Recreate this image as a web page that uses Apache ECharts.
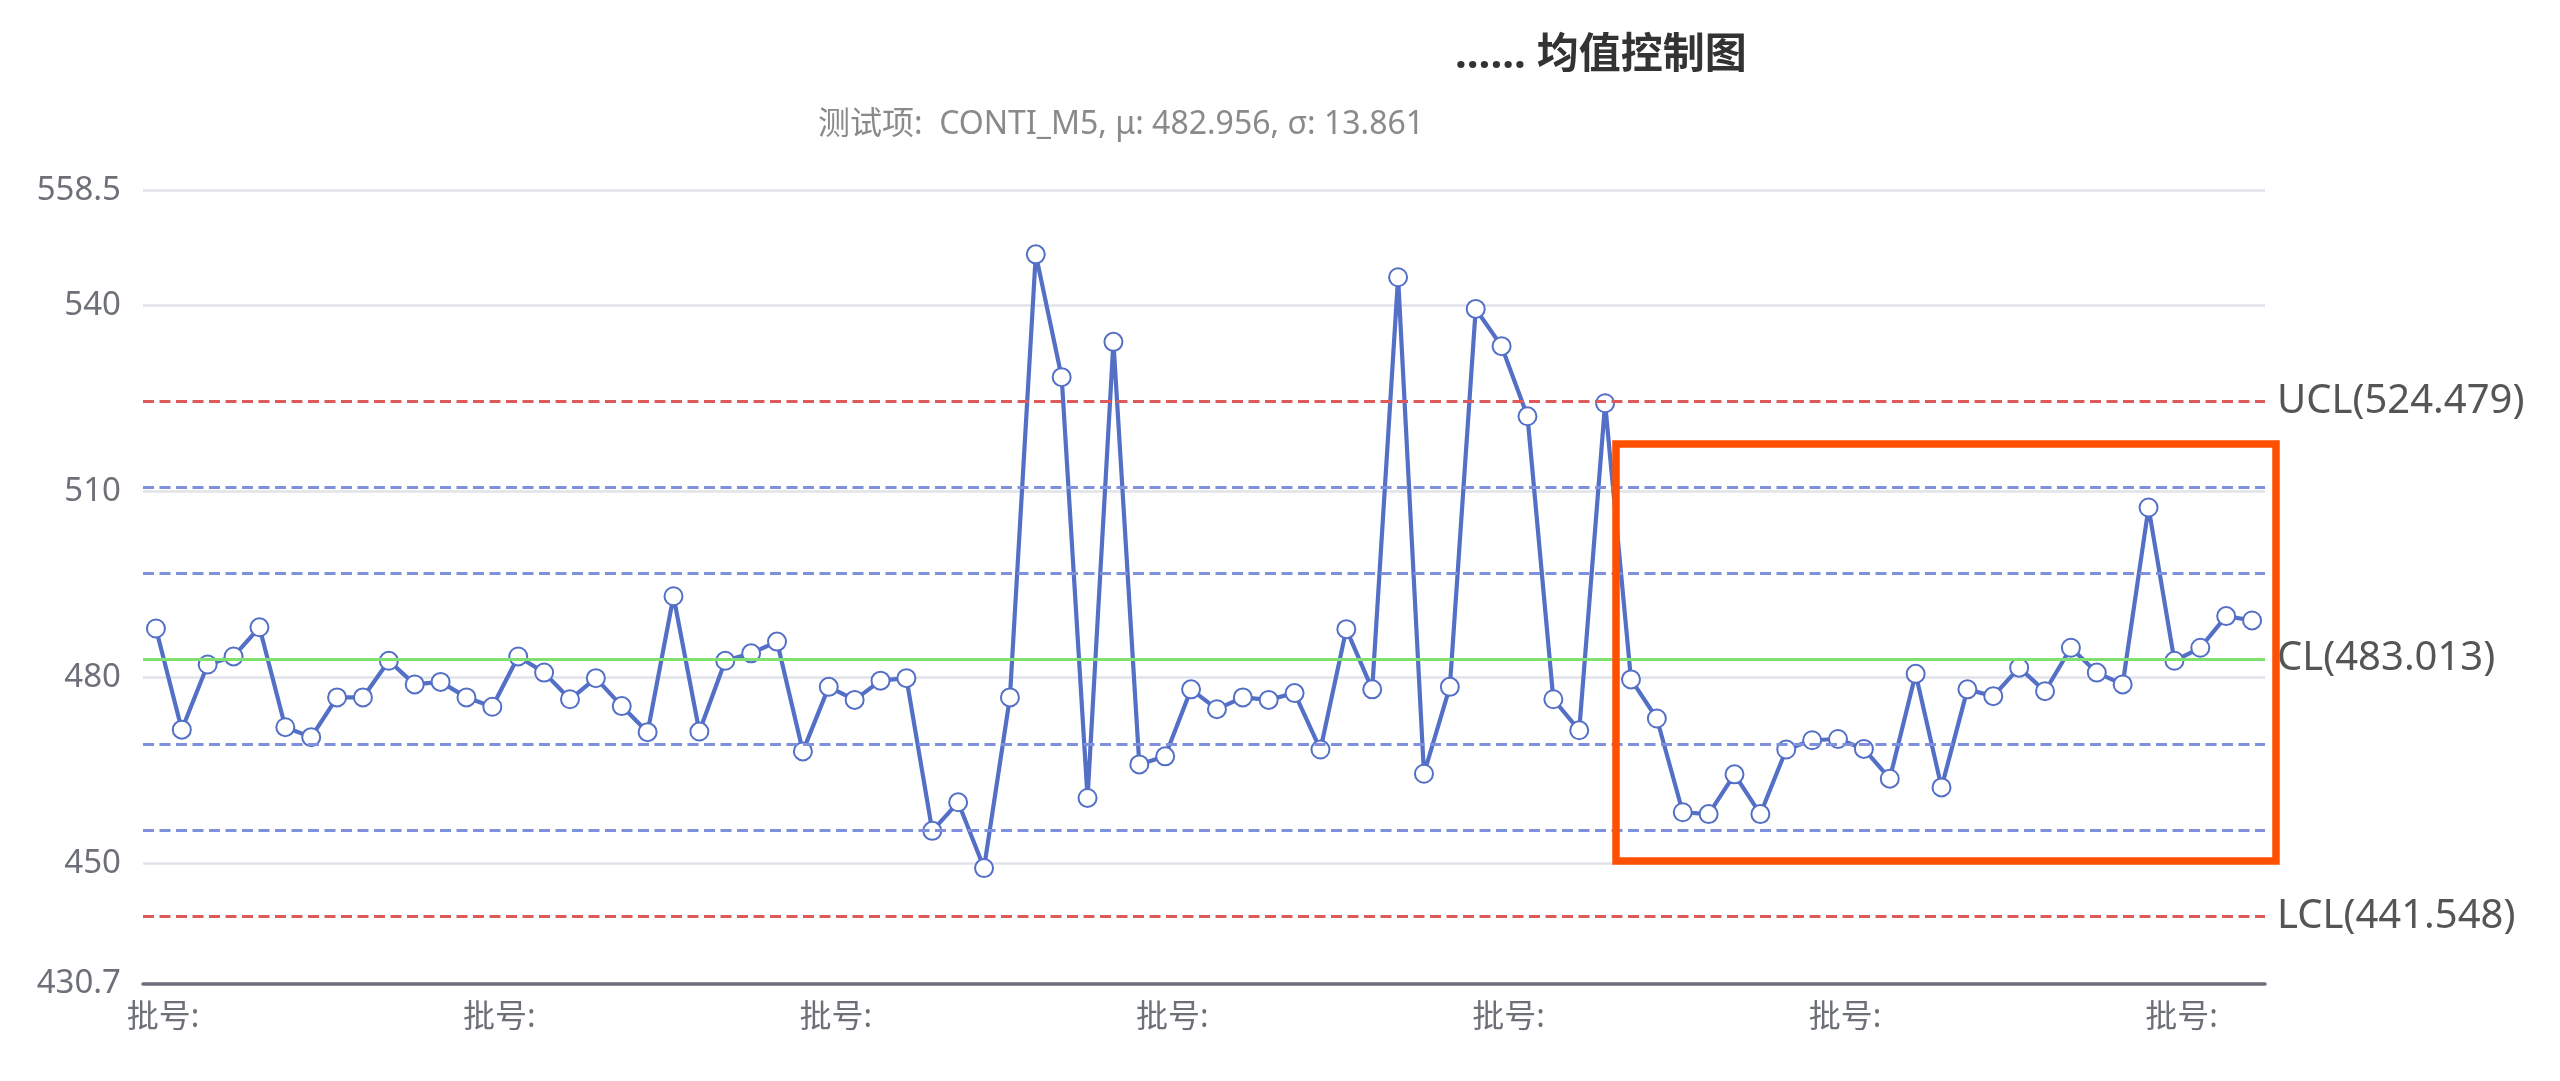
<!DOCTYPE html>
<html>
<head>
<meta charset="utf-8">
<title>均值控制图</title>
<script src="https://cdn.jsdelivr.net/npm/echarts@6/dist/echarts.min.js"></script>
<style>
  html, body { margin: 0; padding: 0; background: #fff; }
  #chart { width: 2560px; height: 1081px; }
</style>
</head>
<body>
<div id="chart"></div>
<script>
// sample means per batch
var sampleMeans = [
    487.9, 471.6, 482.1, 483.4, 488.1, 472.0, 470.4, 476.8, 476.8, 482.7,
    478.9, 479.3, 476.8, 475.3, 483.4, 480.8, 476.5, 479.9, 475.4, 471.2,
    493.1, 471.3, 482.7, 483.9, 485.8, 468.1, 478.5, 476.4, 479.5, 479.9,
    455.3, 459.9, 449.3, 476.8, 548.2, 528.4, 460.6, 534.1, 466.0, 467.3,
    478.1, 474.9, 476.8, 476.4, 477.5, 468.4, 487.8, 478.1, 544.5, 464.5,
    478.5, 539.4, 533.4, 522.1, 476.5, 471.5, 524.2, 479.7, 473.4, 458.3,
    458.0, 464.4, 458.0, 468.4, 469.9, 470.1, 468.5, 463.7, 480.6, 462.3,
    478.1, 477.0, 481.6, 477.8, 484.8, 480.8, 478.9, 507.4, 482.7, 484.8,
    489.9, 489.2
];
// batch numbers are blanked out in the source, only the prefix remains
var batchLabels = sampleMeans.map(function () { return '批号:'; });

var limitNames  = ['UCL', 'CL', 'LCL'];
var limitValues = [524.479, 483.013, 441.548];
var zoneValues  = [510.657, 496.835, 469.191, 455.369];   // ±1σ / ±2σ lines

var yMin = 430.7;
var yMax = 558.5;

var FONT = '"Noto Sans", "Noto Sans CJK SC", sans-serif';

(function () {
    var chart = echarts.init(document.getElementById('chart'));

    var limitColors = ['#de5a5a', '#80e070', '#de5a5a'];
    var limitTypes  = [[11, 5.5], 'solid', [11, 5.5]];

    var markData = limitValues.map(function (v, i) {
        return {
            yAxis: v,
            name: limitNames[i],
            lineStyle: { color: limitColors[i], type: limitTypes[i], width: i === 1 ? 3.2 : 3 },
            label: { show: true, formatter: limitNames[i] + '(' + v.toFixed(3) + ')' }
        };
    });
    zoneValues.forEach(function (v) {
        markData.push({
            yAxis: v,
            lineStyle: { color: '#7f90dc', type: [11, 5.5], width: 3 },
            label: { show: false }
        });
    });

    chart.setOption({
        animation: false,
        textStyle: { fontFamily: FONT },
        title: [
            {
                text: '...... 均值控制图',
                left: 1450,
                top: 30,
                textStyle: { fontSize: 42, fontWeight: 'bold', color: '#333', fontFamily: FONT }
            },
            {
                text: '测试项:  CONTI_M5, μ: 482.956, σ: 13.861',
                left: 813,
                top: 104,
                textStyle: { fontSize: 32, fontWeight: 'normal', color: '#8a8a8a', fontFamily: FONT }
            }
        ],
        grid: { left: 143, right: 295, top: 190.4, bottom: 97.5, containLabel: false },
        xAxis: {
            type: 'category',
            data: batchLabels,
            boundaryGap: true,
            axisLine: { lineStyle: { color: '#6e7079', width: 3.5 } },
            axisTick: { show: false },
            axisLabel: { interval: 12, fontSize: 32, color: '#6e7079', margin: 18, padding: [0, 0, 0, 14], fontFamily: FONT }
        },
        yAxis: {
            type: 'value',
            min: yMin,
            max: yMax,
            axisLine: { show: false },
            axisTick: { show: false },
            axisLabel: { fontSize: 33, color: '#6e7079', margin: 22, fontFamily: FONT },
            splitLine: { lineStyle: { color: '#e0e3ea', width: 2.5 } }
        },
        series: [
            {
                // control limit lines only
                type: 'line',
                data: [],
                z: 1,
                silent: true,
                markLine: {
                    silent: true,
                    symbol: 'none',
                    precision: 3,
                    label: {
                        position: 'end',
                        distance: 12,
                        fontSize: 40,
                        color: '#555',
                        fontFamily: FONT
                    },
                    data: markData
                }
            },
            {
                name: '均值',
                type: 'line',
                data: sampleMeans,
                z: 3,
                showSymbol: true,
                showAllSymbol: true,
                symbol: 'emptyCircle',
                symbolSize: 18,
                lineStyle: { color: '#5470c6', width: 4.2 },
                itemStyle: { color: '#5470c6', borderWidth: 4 }
            }
        ],
        graphic: [
            {
                // orange highlight box drawn over the picture
                type: 'rect',
                z: 100,
                shape: { x: 1616, y: 444, width: 660, height: 417 },
                style: { fill: 'none', stroke: '#fe5000', lineWidth: 7.5 }
            }
        ]
    });

    window.addEventListener('resize', function () { chart.resize(); });
})();
</script>
</body>
</html>
